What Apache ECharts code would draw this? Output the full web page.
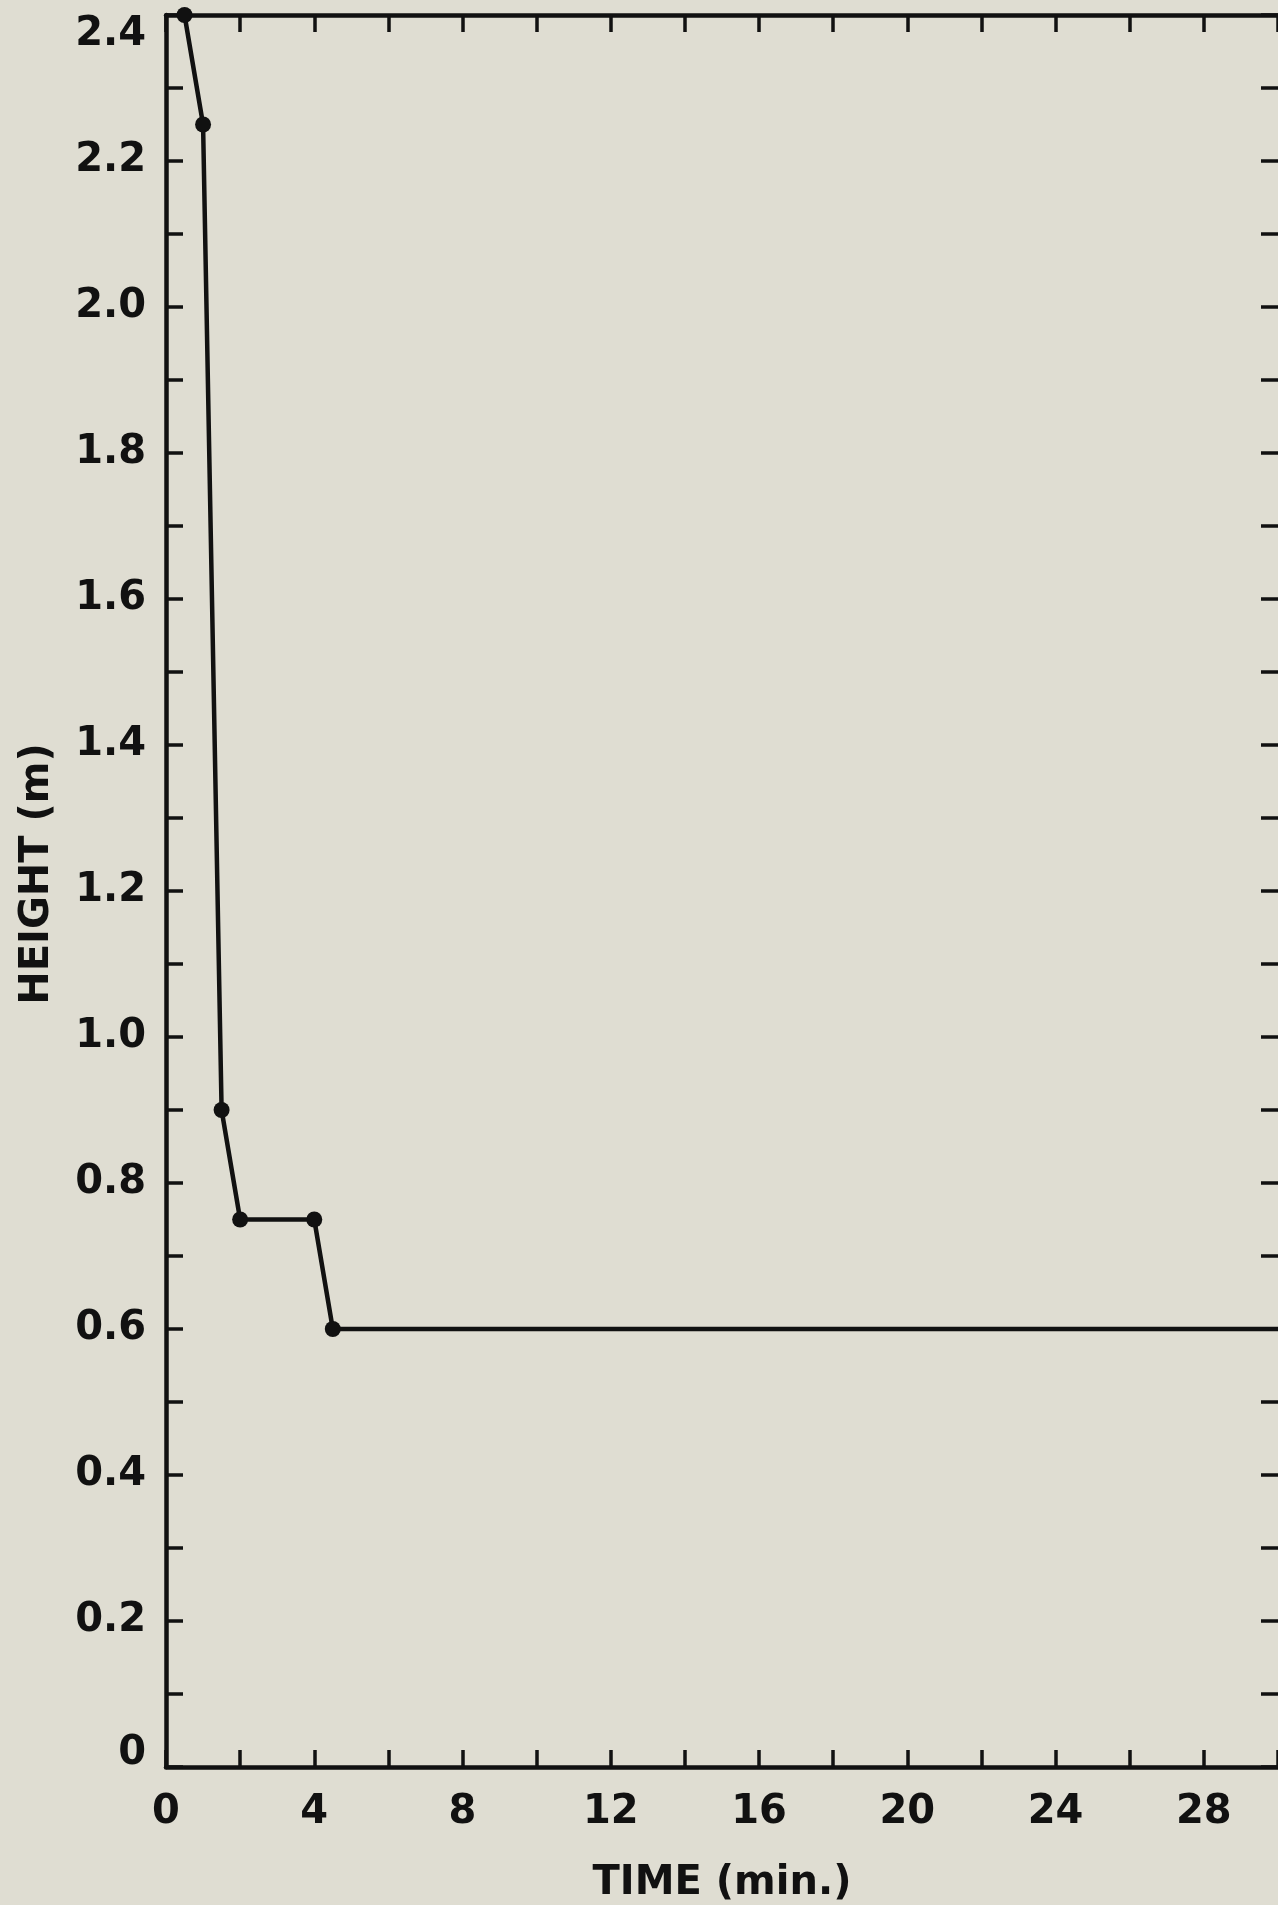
<!DOCTYPE html>
<html><head><meta charset="utf-8">
<script src="https://cdn.jsdelivr.net/npm/echarts@6/dist/echarts.min.js"></script>
<style>html,body{margin:0;padding:0;background:#dfddd2;} #chart{width:1278px;height:1905px;}</style>
</head><body><div id="chart"></div>
<script>
// Data
const timeMin   = [0.5, 1.0, 1.5, 2.0, 4.0, 4.5, 30];
const heightM   = [2.4, 2.25, 0.9, 0.75, 0.75, 0.6, 0.6];
const hasMarker = [true, true, true, true, true, true, false];
const xTickLabels = ['0','4','8','12','16','20','24','28'];
const yTickLabels = ['0','0.2','0.4','0.6','0.8','1.0','1.2','1.4','1.6','1.8','2.0','2.2','2.4'];

const INK = '#111';
const FONT = 'DejaVu Sans';
const lblStyle = {color: INK, fontFamily: FONT, fontWeight: 'bold', fontSize: 40};

const chart = echarts.init(document.getElementById('chart'), null, {renderer: 'canvas'});

function fmtY(v){
  const k = Math.round(v*10);
  const s = k === 0 ? '0' : (k/10).toFixed(1);
  if (yTickLabels.indexOf(s) < 0) return '';
  if (k === 24) return '{top|' + s + '}';
  if (k === 0) return '{bot|' + s + '}';
  return s;
}
function fmtX(v){
  const s = String(Math.round(v));
  return xTickLabels.indexOf(s) >= 0 ? s : '';
}

const axisLineCfg = {show: true, onZero: false, lineStyle: {color: INK, width: 4.5}};
const tickCfg = {show: true, inside: true, length: 17, lineStyle: {color: INK, width: 3.5}};

chart.setOption({
  backgroundColor: '#dfddd2',
  animation: false,
  grid: {left: 166, top: 15, right: 0, bottom: 138, containLabel: false, outerBoundsMode: 'none'},
  xAxis: [{
    type: 'value', min: 0, max: 30, interval: 2, position: 'bottom',
    axisLine: axisLineCfg, axisTick: tickCfg, splitLine: {show: false},
    axisLabel: Object.assign({formatter: fmtX, margin: 26}, lblStyle),
    name: 'TIME (min.)', nameLocation: 'middle', nameGap: 97,
    nameTextStyle: lblStyle
  }, {
    type: 'value', min: 0, max: 30, interval: 2, position: 'top',
    axisLine: axisLineCfg, axisTick: tickCfg, splitLine: {show: false},
    axisLabel: {show: false}
  }],
  yAxis: [{
    type: 'value', min: 0, max: 2.4, interval: 0.1, position: 'left',
    axisLine: axisLineCfg, axisTick: tickCfg, splitLine: {show: false},
    axisLabel: Object.assign({formatter: fmtY, margin: 20,
      rich: {
        top: Object.assign({padding: [40, 0, 0, 0]}, lblStyle),
        bot: Object.assign({padding: [0, 0, 26, 0]}, lblStyle)
      }}, lblStyle),
    name: 'HEIGHT (m)', nameLocation: 'middle', nameGap: 108,
    nameTextStyle: Object.assign({padding: [0, 0, 0, 34]}, lblStyle)
  }, {
    type: 'value', min: 0, max: 2.4, interval: 0.1, position: 'right',
    axisLine: {show: false, onZero: false}, axisTick: tickCfg, splitLine: {show: false},
    axisLabel: {show: false}
  }],
  series: [{
    type: 'line',
    xAxisIndex: 0, yAxisIndex: 0,
    clip: false,
    showSymbol: true,
    symbolSize: 16,
    itemStyle: {color: INK},
    lineStyle: {color: INK, width: 4.5},
    data: timeMin.map((t, i) => ({value: [t, heightM[i]], symbol: hasMarker[i] ? 'circle' : 'none'}))
  }]
});
</script></body></html>
